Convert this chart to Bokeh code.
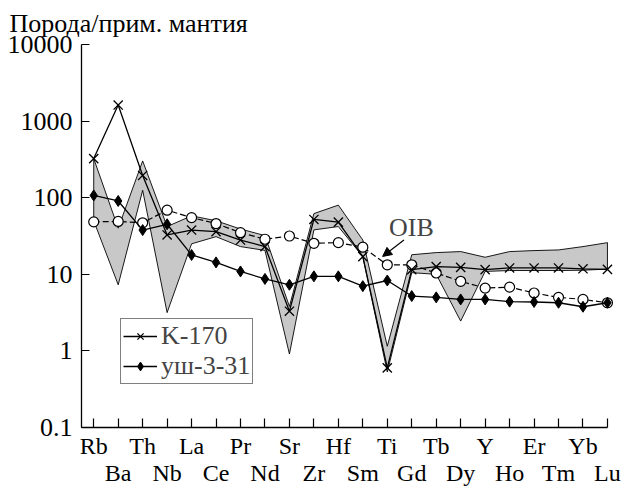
from bokeh.plotting import figure
from bokeh.models import (FixedTicker, Legend, LegendItem, Label,
                          Arrow, NormalHead, Range1d)
from bokeh.embed import file_html
from bokeh.resources import INLINE

# ---------------- data ----------------
elements = ["Rb", "Ba", "Th", "Nb", "La", "Ce", "Pr", "Nd", "Sr", "Zr", "Hf",
            "Sm", "Ti", "Gd", "Tb", "Dy", "Y", "Ho", "Er", "Tm", "Yb", "Lu"]
k170 = [324, 1620, 195, 32.6, 37.8, 36, 28, 23, 3.3, 52, 48, 17, 0.6,
        11.5, 12.6, 12.3, 11.5, 12.1, 12.1, 12.1, 11.8, 11.6]
ush331 = [107, 90.6, 37.8, 45, 17.9, 14.3, 10.9, 8.7, 7.3, 9.4, 9.4, 7.0, 8.3,
          5.2, 5.0, 4.7, 4.7, 4.4, 4.35, 4.25, 3.77, 4.25]
oib = [48.4, 49, 47, 68.7, 55, 46, 35, 28.7, 31.6, 25.4, 25.9, 22.6, 13.3,
       13.3, 10.4, 8.1, 6.6, 6.8, 5.7, 5.0, 4.7, 4.25]
band_upper = [324, 40, 302, 42, 58, 50, 39, 32, 3.8, 62, 80, 28, 1.15,
              18, 19.2, 19.8, 16.7, 19.8, 20.4, 20.8, 23, 25.9]
band_lower = [50, 7.3, 125, 3.16, 25, 31, 23, 20.5, 0.91, 38, 42, 17, 0.53,
              10.5, 10, 2.45, 10.9, 11.2, 11.2, 11.2, 11.3, 11.7]
y_ticks = [0.1, 1, 10, 100, 1000, 10000]
y_tick_labels = ["0.1", "1", "10", "100", "1000", "10000"]

xs = list(range(len(elements)))
FONT = "Liberation Serif"

p = figure(width=624, height=488, y_axis_type="log",
           x_range=Range1d(-0.5, 21.37), y_range=Range1d(0.1, 10000),
           output_backend="svg", toolbar_location=None,
           min_border_left=81, min_border_right=8, min_border_top=43,
           min_border_bottom=58)
p.grid.visible = False
p.outline_line_color = None
p.background_fill_color = "white"

# title
p.title.text = "Порода/прим. мантия"
p.title.text_font = FONT
p.title.text_font_size = "26px"
p.title.text_font_style = "normal"
p.title.text_color = "black"
p.title.align = "left"
p.title.offset = -72
p.title.standoff = 13

# grey band
p.patch(xs + xs[::-1], band_upper + band_lower[::-1], fill_color="#c8c8c8",
        line_color="black", line_width=0.9)

# OIB
p.line(xs, oib, line_color="black", line_width=1.2, line_dash="6 3")
p.scatter(xs, oib, marker="circle", size=10, fill_color="white",
          line_color="black", line_width=1.2)

# K-170
l1 = p.line(xs, k170, line_color="black", line_width=1.3)
s1 = p.scatter(xs, k170, marker="x", size=13, line_color="black", line_width=1.3)

# уш-3-31
l2 = p.line(xs, ush331, line_color="black", line_width=1.3)
s2 = p.scatter(xs, ush331, marker="diamond", size=11,
               fill_color="black", line_color="black")

# x axis: two rows of element labels
xa = p.xaxis[0]
xa.ticker = FixedTicker(ticks=xs)
xa.major_label_overrides = {i: (elements[i] + "\n" if i % 2 == 0 else "\n" + elements[i])
                            for i in xs}
xa.major_tick_in = 9
xa.major_tick_out = 0
xa.minor_tick_line_color = None
xa.axis_line_width = 1.3
xa.major_tick_line_width = 1.2
xa.bounds = (-0.5, 21)
xa.major_label_text_font = FONT
xa.major_label_text_font_size = "24px"
xa.major_label_text_color = "black"
xa.major_label_text_line_height = 1.05
xa.major_label_standoff = 5

ya = p.yaxis[0]
ya.ticker = FixedTicker(ticks=y_ticks)
ya.major_label_overrides = {t: s for t, s in zip(y_ticks, y_tick_labels)}
ya.major_tick_in = 8
ya.major_tick_out = 0
ya.minor_tick_line_color = None
ya.axis_line_width = 1.3
ya.major_tick_line_width = 1.2
ya.major_label_text_font = FONT
ya.major_label_text_font_size = "26px"
ya.major_label_text_color = "black"
ya.major_label_standoff = 9

# legend
legend = Legend(items=[LegendItem(label="K-170", renderers=[l1, s1]),
                       LegendItem(label="уш-3-31", renderers=[l2, s2])],
                location=(39, 43), border_line_color="black",
                border_line_width=1.2, label_text_font=FONT,
                label_text_font_size="26px", glyph_width=34, glyph_height=22,
                label_standoff=4, padding=2, spacing=0, margin=0,
                label_height=22)
p.add_layout(legend)

# OIB annotation
p.add_layout(Label(x=12.07, y=41.0, text="OIB", text_font=FONT,
                   text_font_size="26px", text_baseline="alphabetic"))
p.add_layout(Arrow(end=NormalHead(size=9, fill_color="black", line_color="black"),
                   x_start=12.68, y_start=28.1, x_end=11.81, y_end=17.1,
                   line_width=1.2, line_color="black"))

open("out.html", "w").write(file_html(p, INLINE))
